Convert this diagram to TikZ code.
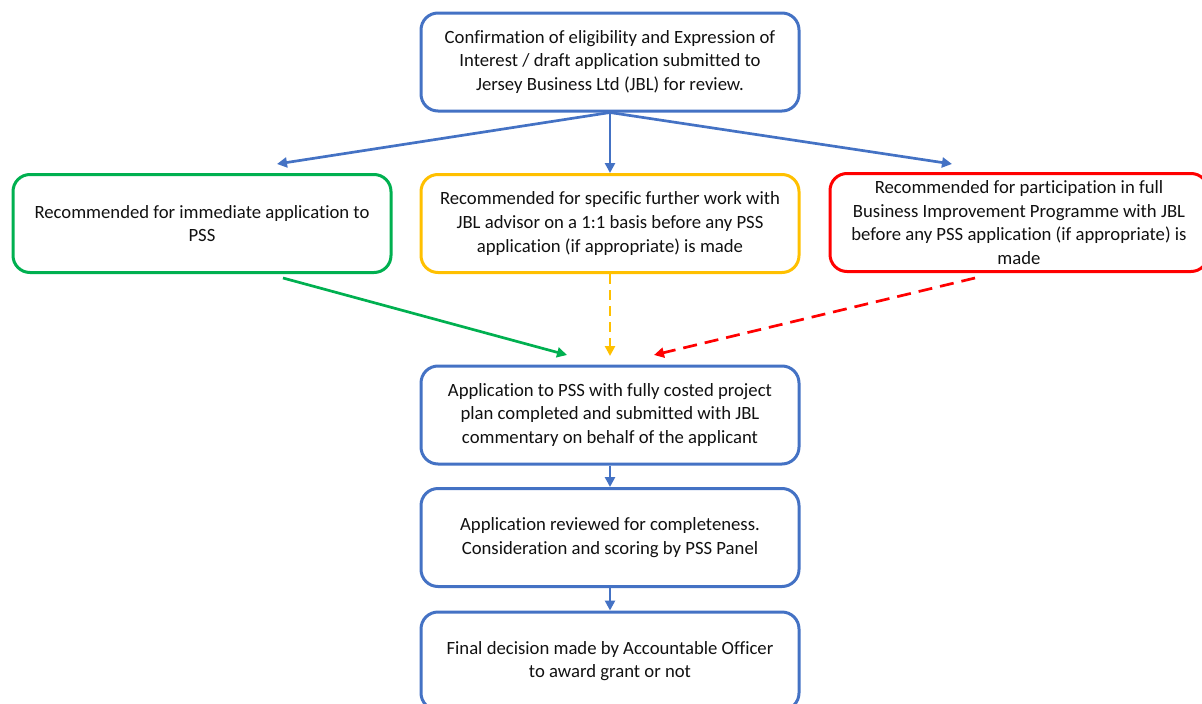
\documentclass[tikz,border=0pt]{standalone}
\usepackage{fontspec}
\setmainfont[Ligatures=NoCommon]{Carlito}
\usetikzlibrary{arrows.meta}
\definecolor{cblue}{HTML}{4472C4}
\definecolor{cgreen}{HTML}{00B050}
\definecolor{cyellow}{HTML}{FFC000}
\definecolor{cred}{HTML}{FF0000}
\definecolor{ctext}{HTML}{111111}
\tikzset{
  box/.style={draw, line width=3pt, rounded corners=17pt, minimum width=378pt, minimum height=98pt,
    align=center, inner sep=0pt, text=ctext, font=\fontsize{18.7}{23.7}\selectfont},
  conn/.style={line width=2.7pt, -{Triangle[length=10pt,width=10pt]}},
  dashA/.style={dash pattern=on 10pt off 6pt},
  dashB/.style={dash pattern=on 14pt off 8pt},
}
\begin{document}
\begin{tikzpicture}[x=1pt,y=-1pt]
\useasboundingbox (0,0) rectangle (1202,704);
\clip (0,0) rectangle (1202,704);
\node[box, draw=cblue] (top) at (610,62) {Confirmation of eligibility and Expression of\\Interest / draft application submitted to\\Jersey Business Ltd (JBL) for review.};
\node[box, draw=cgreen] (green) at (202,223.5) {Recommended for immediate application to\\PSS};
\node[box, draw=cyellow] (yellow) at (610,223.5) {Recommended for specific further work with\\JBL advisor on a 1:1 basis before any PSS\\application (if appropriate) is made};
\node[box, draw=cred] (red) at (1019,222.5) {Recommended for participation in full\\Business Improvement Programme with JBL\\before any PSS application (if appropriate) is\\made};
\node[box, draw=cblue] (app) at (610,415) {Application to PSS with fully costed project\\plan completed and submitted with JBL\\commentary on behalf of the applicant};
\node[box, draw=cblue] (rev) at (610,537.5) {Application reviewed for completeness.\\Consideration and scoring by PSS Panel};
\node[box, draw=cblue] (fin) at (610,661) {Final decision made by Accountable Officer\\to award grant or not};
% free ends
\coordinate (gIn) at (277,164);
\coordinate (rIn) at (952,164);
\coordinate (gOut) at (283,278);
\coordinate (rOut) at (975,278);
\coordinate (aG) at (567,355);
\coordinate (aY) at (610,356);
\coordinate (aR) at (654,355);
\draw[conn, cblue] (top.south) -- (gIn);
\draw[conn, cblue] (top.south) -- (yellow.north);
\draw[conn, cblue] (top.south) -- (rIn);
\draw[conn, cgreen] (gOut) -- (aG);
\draw[conn, cyellow, dashA] (yellow.south) -- (aY);
\draw[conn, cred, dashB] (rOut) -- (aR);
\draw[conn, cblue] (app.south) -- (rev.north);
\draw[conn, cblue] (rev.south) -- (fin.north);
\end{tikzpicture}
\end{document}
